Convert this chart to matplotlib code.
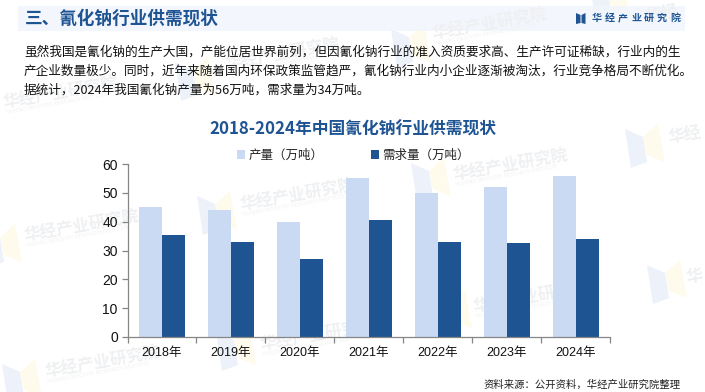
import matplotlib
matplotlib.use("Agg")
import matplotlib.pyplot as plt
from matplotlib.patches import Polygon, Rectangle
import numpy as np

plt.rcParams['font.family'] = ['Noto Sans CJK SC', 'DejaVu Sans']

years = ['2018年', '2019年', '2020年', '2021年', '2022年', '2023年', '2024年']
production = [45, 44, 40, 55, 50, 52, 56]
demand = [35.5, 33, 27, 40.5, 33, 32.7, 34]
series_names = ['产量（万吨）', '需求量（万吨）']
title = '2018-2024年中国氰化钠行业供需现状'
header = '三、氰化钠行业供需现状'
brand = '华经产业研究院'
paragraph = [
    '虽然我国是氰化钠的生产大国，产能位居世界前列，但因氰化钠行业的准入资质要求高、生产许可证稀缺，行业内的生',
    '产企业数量极少。同时，近年来随着国内环保政策监管趋严，氰化钠行业内小企业逐渐被淘汰，行业竞争格局不断优化。',
    '据统计，2024年我国氰化钠产量为56万吨，需求量为34万吨。',
]
source = '资料来源：公开资料，华经产业研究院整理'
wm_sub = 'HUAJING INDUSTRY RESEARCH INSTITUTE'

W, H = 705, 392
fig = plt.figure(figsize=(W / 100, H / 100), dpi=100, facecolor='white')
bg = fig.add_axes([0, 0, 1, 1], zorder=0)
bg.set_xlim(0, W); bg.set_ylim(H, 0); bg.axis('off')

# faint watermarks
logo_spots = [(175, 62), (391, 29), (197, 196), (-18, 229), (2, 364), (216, 332),
              (432, 295), (647, 265), (411, 163), (625, 129), (590, -15)]
label_spots = [(3, 103, 7), (225, 64, 7), (432, 34, 7), (240, 205, 7), (24, 236, 7), (45, 372, 7),
               (260, 345, 7), (473, 307, 7), (686, 278, 1), (453, 175, 7), (668, 138, 2), (645, 17, 2)]
for lx, ly in logo_spots:
    bg.add_patch(Polygon([(lx, ly), (lx + 18, ly + 8), (lx + 22, ly + 33), (lx + 6, ly + 39)],
                         fc='#edf2fa', ec='none'))
    bg.add_patch(Polygon([(lx + 18, ly + 8), (lx + 33, ly - 5), (lx + 40, ly + 33), (lx + 22, ly + 26)],
                         fc='#fefbec', ec='none'))
for x, y, n in label_spots:
    bg.text(x, y, brand[:n], fontsize=12, fontweight='bold', color='#eff0f2', rotation=10,
            rotation_mode='anchor', ha='left', va='center')
    if n == 7:
        bg.text(x + 3, y + 10, wm_sub, family='DejaVu Sans', fontsize=3.6, color='#f1f2f4', rotation=10,
                rotation_mode='anchor', ha='left', va='center')

# header band
bg.add_patch(Rectangle((18, 6), 667, 25, fc='#f1f5fc', ec='none', alpha=0.85))
bg.text(25, 18.5, header, fontsize=12.7, fontweight='bold', color='#1f5493', va='center', ha='left')
bg.add_patch(Polygon([(576, 13), (580.5, 15), (580.5, 23), (576, 24)], fc='#1f5493', ec='none'))
bg.add_patch(Polygon([(585.5, 13), (581.5, 15), (581.5, 23), (585.5, 24)], fc='#1f5493', ec='none'))
for i, ch in enumerate(brand):
    bg.text(597 + i * 13, 18, ch, fontsize=7.2, fontweight='bold', color='#1f5493', ha='center', va='center')

# paragraph
for i, line in enumerate(paragraph):
    bg.text(24, 52 + i * 19, line, fontsize=9.1, color='#111111', ha='left', va='center')

bg.text(353, 130, title, fontsize=12.1, fontweight='bold', color='#1f5493', ha='center', va='center')
bg.text(681, 385, source, fontsize=7.45, color='#222222', ha='right', va='center')

# chart
L, R, T, B = 127.5, 610, 164, 337
ax = fig.add_axes([L / W, 1 - B / H, (R - L) / W, (B - T) / H], zorder=1)
ax.patch.set_alpha(0)
x = np.arange(len(years))
bw = 1 / 3
b1 = ax.bar(x - bw / 2, production, bw, color='#c9daf2', label=series_names[0])
b2 = ax.bar(x + bw / 2, demand, bw, color='#1f5493', label=series_names[1])
ax.set_xlim(-0.5, len(years) - 0.5)
ax.set_ylim(0, 60)
ax.set_yticks(range(0, 61, 10))
ax.set_xticks(np.arange(-0.5, len(years)), minor=False)
ax.set_xticklabels([])
ax.set_xticks(x, labels=years, minor=True)
ax.tick_params(axis='x', which='major', length=4, color='#868686', width=0.9, direction='out')
ax.tick_params(axis='x', which='minor', length=0, labelsize=9, pad=7, labelcolor='#111111')
ax.tick_params(axis='y', length=4, color='#868686', width=0.9, labelsize=10, pad=3, labelcolor='#111111')
for s in ('top', 'right'):
    ax.spines[s].set_visible(False)
for s in ('left', 'bottom'):
    ax.spines[s].set_color('#868686')
    ax.spines[s].set_linewidth(0.9)
for t in ax.get_yticklabels():
    t.set_family('Liberation Sans')
for t in ax.get_xticklabels(minor=True):
    t.set_family(['Liberation Sans', 'Noto Sans CJK SC'])

ax.legend(handles=[b1, b2], loc='center', bbox_to_anchor=((353.5 - L) / (R - L), (B - 155.5) / (B - T)),
          ncol=2, frameon=False, fontsize=9.0, handlelength=0.65, handleheight=0.65,
          columnspacing=3.8, handletextpad=0.25, labelcolor='#222222', borderpad=0, borderaxespad=0)

fig.savefig('out.png', dpi=100)
